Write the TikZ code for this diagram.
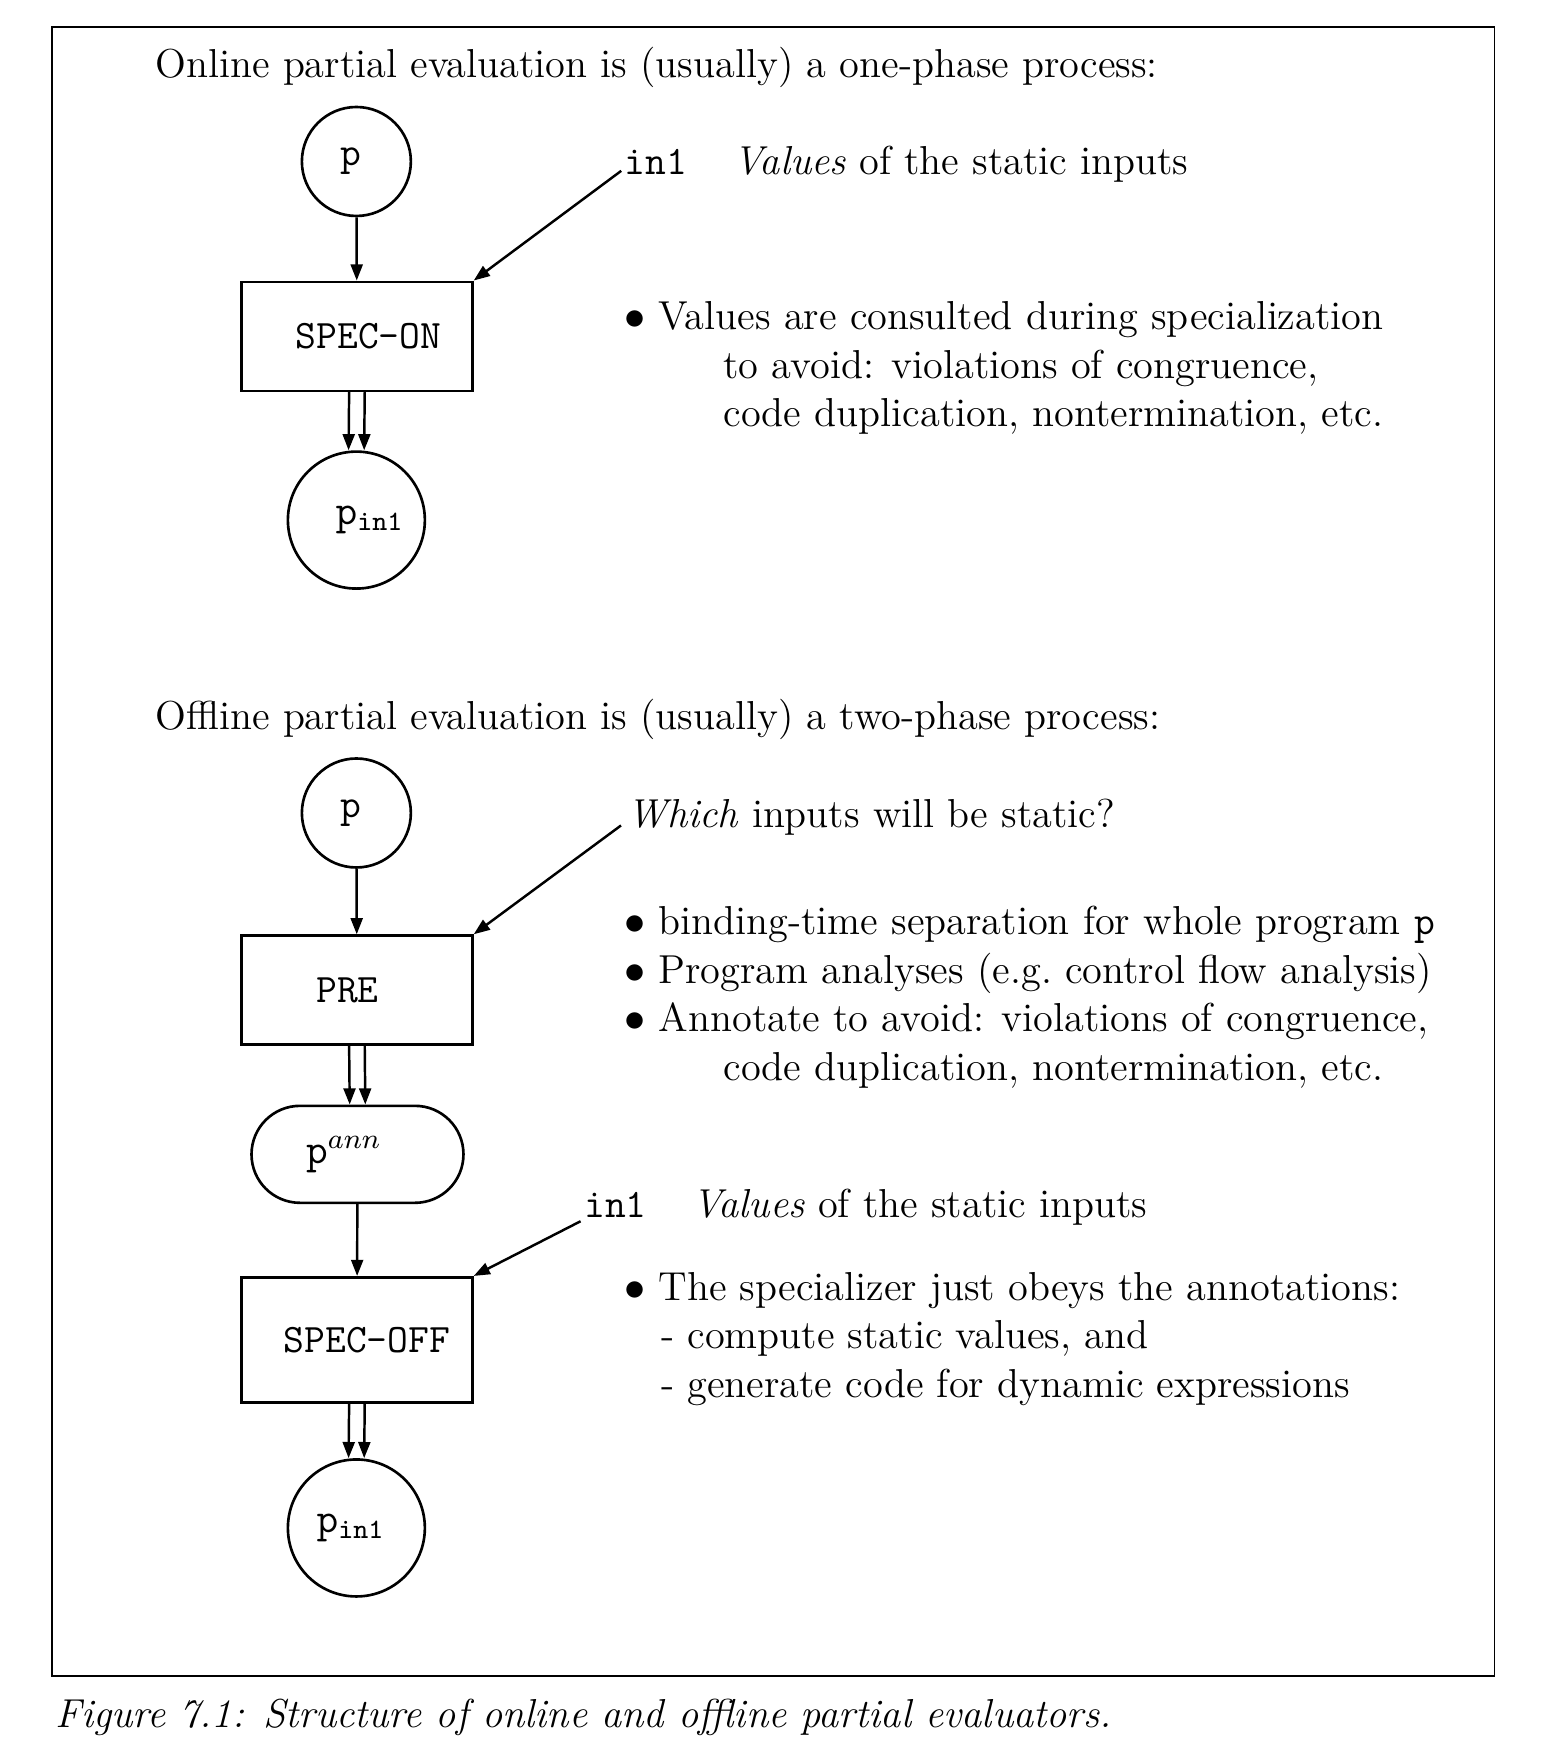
\documentclass[tikz,border=0pt]{standalone}
\usepackage{amsmath}
\usepackage{tikz}
\usetikzlibrary{arrows.meta}
\usetikzlibrary{positioning}
\tikzset{circ/.style = {draw, circle, inner sep = 0, line width = 0.75pt}}
\tikzset{proc/.style = {draw, rectangle, inner sep = 0, line width = 0.75pt, minimum width = 2.31cm}}
\tikzset{stadium/.style = {draw, rectangle, rounded corners = 0.485cm, inner sep = 0, line width = 0.75pt, minimum width = 2.12cm, minimum height = 0.97cm}}
\tikzset{txt/.style = {anchor = base west, inner sep = 0}}
\tikzset{flow/.style = {-{Triangle[length = 4.6pt, width = 3.4pt]}, line width = 0.7pt}}

\begin{document}
\begin{tikzpicture}[x = 0.01114cm, y = -0.01114cm, font = \fontsize{11.5}{14.4}\selectfont]
      \useasboundingbox (0, 0) rectangle (1390, 1566);
      \draw [line width = 0.5pt] (47, 24) rectangle (1342, 1505);

      % online
      \node [txt] (ontitle) at (139, 70) {Online partial evaluation is (usually) a one-phase process:};
      \node [circ, minimum size = 1.09cm] (pon) at (320, 145) {\texttt{p}\hspace*{0.11cm}};
      \node [proc, minimum height = 1.09cm] (specon) at (320.5, 302) {\hspace*{0.23cm}\texttt{SPEC-ON}};
      \node [circ, minimum size = 1.37cm] (pinon) at (320, 467) {\hspace*{0.27cm}$\mathtt{p}_{\mathtt{in1}}$};

      \node [txt] (inon) at (560.5, 157) {\texttt{in1}};
      \node [txt] (inontxt) at (658, 157) {\textit{Values} of the static inputs};
      \node [txt] (onbulleta) at (560, 296) {$\bullet$ Values are consulted during specialization};
      \node [txt] (onbulletb) at (649, 339.5) {to avoid: violations of congruence,};
      \node [txt] (onbulletc) at (649, 383) {code duplication, nontermination, etc.};

      \draw [flow] (pon) -- (specon);
      \draw [flow] ([xshift = -0.078cm]specon.south) -- ([xshift = -0.078cm]pinon.north);
      \draw [flow] ([xshift = 0.078cm]specon.south) -- ([xshift = 0.078cm]pinon.north);
      \draw [flow] ([shift = {(-0.03cm, 0.04cm)}]inon.base west) -- (specon.north east);

      % offline
      \node [txt] (offtitle) at (139, 655) {Offline partial evaluation is (usually) a two-phase process:};
      \node [circ, minimum size = 1.09cm] (poff) at (320, 730) {\texttt{p}\hspace*{0.11cm}};
      \node [proc, minimum height = 1.09cm] (pre) at (320.5, 889) {\texttt{PRE}\hspace*{0.19cm}};
      \node [stadium] (pann) at (321, 1036.5) {\raisebox{-0.1cm}{$\mathtt{p}^{ann}$}\hspace*{0.27cm}};
      \node [proc, minimum height = 1.25cm] (specoff) at (320.5, 1203) {\hspace*{0.2cm}\texttt{SPEC-OFF}};
      \node [circ, minimum size = 1.37cm] (pinoff) at (320, 1372) {$\mathtt{p}_{\mathtt{in1}}$\hspace*{0.11cm}};

      \node [txt] (which) at (563, 743) {\textit{Which} inputs will be static?};
      \node [txt] (offbulleta) at (560, 839) {$\bullet$ binding-time separation for whole program \texttt{p}};
      \node [txt] (offbulletb) at (560, 883) {$\bullet$ Program analyses (e.g.\ control flow analysis)};
      \node [txt] (offbulletc) at (560, 926) {$\bullet$ Annotate to avoid: violations of congruence,};
      \node [txt] (offbulletd) at (649, 970) {code duplication, nontermination, etc.};

      \node [txt] (inoff) at (524, 1093) {\texttt{in1}};
      \node [txt] (inofftxt) at (621, 1093) {\textit{Values} of the static inputs};
      \node [txt] (specbulleta) at (560, 1167.5) {$\bullet$ The specializer just obeys the annotations:};
      \node [txt] (specbulletb) at (593, 1211) {- compute static values, and};
      \node [txt] (specbulletc) at (593, 1255) {- generate code for dynamic expressions};

      \draw [flow] (poff) -- (pre);
      \draw [flow] ([xshift = -0.078cm]pre.south) -- ([xshift = -0.078cm]pann.north);
      \draw [flow] ([xshift = 0.078cm]pre.south) -- ([xshift = 0.078cm]pann.north);
      \draw [flow] (pann) -- (specoff);
      \draw [flow] ([xshift = -0.078cm]specoff.south) -- ([xshift = -0.078cm]pinoff.north);
      \draw [flow] ([xshift = 0.078cm]specoff.south) -- ([xshift = 0.078cm]pinoff.north);
      \draw [flow] ([shift = {(-0.06cm, 0.02cm)}]which.base west) -- (pre.north east);
      \draw [flow] ([shift = {(-0.03cm, -0.04cm)}]inoff.base west) -- (specoff.north east);

      \node [txt, font = \fontsize{11.5}{14.4}\selectfont\itshape] (caption) at (49, 1551) {Figure 7.1: Structure of online and offline partial evaluators.};
    \end{tikzpicture}
\end{document}
